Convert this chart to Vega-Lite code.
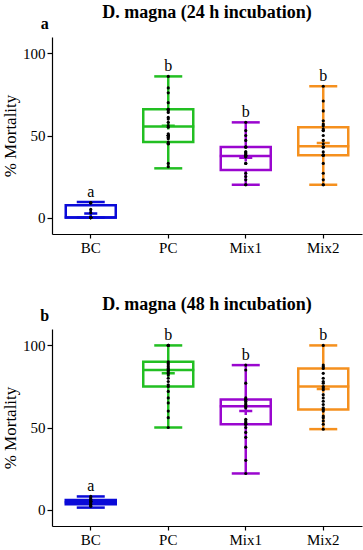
{
  "$schema": "https://vega.github.io/schema/vega-lite/v6.json",
  "padding": {"left": 1, "top": 4, "right": 3, "bottom": 3},
  "background": "white",
  "datasets": {
    "summary": [
      {"p": "24", "g": "BC", "min": 0, "q1": 0, "median": 0, "q3": 7.5, "max": 9.5, "mean": 2.5, "sig": "a"},
      {"p": "24", "g": "PC", "min": 30, "q1": 46, "median": 55.5, "q3": 66, "max": 86, "mean": 56, "sig": "b"},
      {"p": "24", "g": "Mix1", "min": 20, "q1": 29, "median": 37.5, "q3": 43, "max": 58, "mean": 36.5, "sig": "b"},
      {"p": "24", "g": "Mix2", "min": 20, "q1": 38, "median": 43.5, "q3": 55, "max": 80, "mean": 45.5, "sig": "b"},
      {"p": "48", "g": "BC", "min": 1.2, "q1": 3.2, "median": 4.5, "q3": 5.8, "max": 8, "mean": 4.5, "sig": "a"},
      {"p": "48", "g": "PC", "min": 50, "q1": 75, "median": 85, "q3": 90, "max": 100, "mean": 83, "sig": "b"},
      {"p": "48", "g": "Mix1", "min": 22, "q1": 52, "median": 63, "q3": 67, "max": 88, "mean": 60, "sig": "b"},
      {"p": "48", "g": "Mix2", "min": 49, "q1": 61, "median": 75, "q3": 86, "max": 100, "mean": 73.5, "sig": "b"}
    ],
    "points": [
      {"p": "24", "g": "BC", "v": 0}, {"p": "24", "g": "BC", "v": 0}, {"p": "24", "g": "BC", "v": 0}, {"p": "24", "g": "BC", "v": 0},
      {"p": "24", "g": "BC", "v": 0}, {"p": "24", "g": "BC", "v": 0}, {"p": "24", "g": "BC", "v": 0}, {"p": "24", "g": "BC", "v": 3},
      {"p": "24", "g": "BC", "v": 5}, {"p": "24", "g": "BC", "v": 9}, {"p": "24", "g": "BC", "v": 9}, {"p": "24", "g": "BC", "v": 9},
      {"p": "24", "g": "PC", "v": 86}, {"p": "24", "g": "PC", "v": 79}, {"p": "24", "g": "PC", "v": 76}, {"p": "24", "g": "PC", "v": 70},
      {"p": "24", "g": "PC", "v": 66}, {"p": "24", "g": "PC", "v": 66}, {"p": "24", "g": "PC", "v": 65}, {"p": "24", "g": "PC", "v": 64},
      {"p": "24", "g": "PC", "v": 61}, {"p": "24", "g": "PC", "v": 60}, {"p": "24", "g": "PC", "v": 58}, {"p": "24", "g": "PC", "v": 56},
      {"p": "24", "g": "PC", "v": 55}, {"p": "24", "g": "PC", "v": 51}, {"p": "24", "g": "PC", "v": 50}, {"p": "24", "g": "PC", "v": 50},
      {"p": "24", "g": "PC", "v": 50}, {"p": "24", "g": "PC", "v": 50}, {"p": "24", "g": "PC", "v": 49}, {"p": "24", "g": "PC", "v": 48},
      {"p": "24", "g": "PC", "v": 46}, {"p": "24", "g": "PC", "v": 45}, {"p": "24", "g": "PC", "v": 45}, {"p": "24", "g": "PC", "v": 45},
      {"p": "24", "g": "PC", "v": 33}, {"p": "24", "g": "PC", "v": 31},
      {"p": "24", "g": "Mix1", "v": 58}, {"p": "24", "g": "Mix1", "v": 53}, {"p": "24", "g": "Mix1", "v": 50}, {"p": "24", "g": "Mix1", "v": 47},
      {"p": "24", "g": "Mix1", "v": 43}, {"p": "24", "g": "Mix1", "v": 43}, {"p": "24", "g": "Mix1", "v": 43}, {"p": "24", "g": "Mix1", "v": 43},
      {"p": "24", "g": "Mix1", "v": 40}, {"p": "24", "g": "Mix1", "v": 40}, {"p": "24", "g": "Mix1", "v": 39}, {"p": "24", "g": "Mix1", "v": 38},
      {"p": "24", "g": "Mix1", "v": 38}, {"p": "24", "g": "Mix1", "v": 37}, {"p": "24", "g": "Mix1", "v": 37}, {"p": "24", "g": "Mix1", "v": 33},
      {"p": "24", "g": "Mix1", "v": 33}, {"p": "24", "g": "Mix1", "v": 27}, {"p": "24", "g": "Mix1", "v": 25}, {"p": "24", "g": "Mix1", "v": 23},
      {"p": "24", "g": "Mix1", "v": 20}, {"p": "24", "g": "Mix1", "v": 20},
      {"p": "24", "g": "Mix2", "v": 80}, {"p": "24", "g": "Mix2", "v": 71}, {"p": "24", "g": "Mix2", "v": 65}, {"p": "24", "g": "Mix2", "v": 59},
      {"p": "24", "g": "Mix2", "v": 57}, {"p": "24", "g": "Mix2", "v": 56}, {"p": "24", "g": "Mix2", "v": 54}, {"p": "24", "g": "Mix2", "v": 53},
      {"p": "24", "g": "Mix2", "v": 53}, {"p": "24", "g": "Mix2", "v": 50}, {"p": "24", "g": "Mix2", "v": 47}, {"p": "24", "g": "Mix2", "v": 45},
      {"p": "24", "g": "Mix2", "v": 43}, {"p": "24", "g": "Mix2", "v": 43}, {"p": "24", "g": "Mix2", "v": 43}, {"p": "24", "g": "Mix2", "v": 40},
      {"p": "24", "g": "Mix2", "v": 38}, {"p": "24", "g": "Mix2", "v": 38}, {"p": "24", "g": "Mix2", "v": 38}, {"p": "24", "g": "Mix2", "v": 33},
      {"p": "24", "g": "Mix2", "v": 27}, {"p": "24", "g": "Mix2", "v": 23}, {"p": "24", "g": "Mix2", "v": 20}, {"p": "24", "g": "Mix2", "v": 20},
      {"p": "48", "g": "BC", "v": 2}, {"p": "48", "g": "BC", "v": 3}, {"p": "48", "g": "BC", "v": 3}, {"p": "48", "g": "BC", "v": 4},
      {"p": "48", "g": "BC", "v": 5}, {"p": "48", "g": "BC", "v": 5}, {"p": "48", "g": "BC", "v": 5}, {"p": "48", "g": "BC", "v": 6},
      {"p": "48", "g": "BC", "v": 6}, {"p": "48", "g": "BC", "v": 7}, {"p": "48", "g": "BC", "v": 8},
      {"p": "48", "g": "PC", "v": 100}, {"p": "48", "g": "PC", "v": 100}, {"p": "48", "g": "PC", "v": 100}, {"p": "48", "g": "PC", "v": 90},
      {"p": "48", "g": "PC", "v": 89}, {"p": "48", "g": "PC", "v": 88}, {"p": "48", "g": "PC", "v": 87}, {"p": "48", "g": "PC", "v": 86},
      {"p": "48", "g": "PC", "v": 85}, {"p": "48", "g": "PC", "v": 85}, {"p": "48", "g": "PC", "v": 84}, {"p": "48", "g": "PC", "v": 83},
      {"p": "48", "g": "PC", "v": 82}, {"p": "48", "g": "PC", "v": 80}, {"p": "48", "g": "PC", "v": 78}, {"p": "48", "g": "PC", "v": 76},
      {"p": "48", "g": "PC", "v": 75}, {"p": "48", "g": "PC", "v": 72}, {"p": "48", "g": "PC", "v": 68}, {"p": "48", "g": "PC", "v": 65},
      {"p": "48", "g": "PC", "v": 60}, {"p": "48", "g": "PC", "v": 56}, {"p": "48", "g": "PC", "v": 50},
      {"p": "48", "g": "Mix1", "v": 88}, {"p": "48", "g": "Mix1", "v": 85}, {"p": "48", "g": "Mix1", "v": 77}, {"p": "48", "g": "Mix1", "v": 68},
      {"p": "48", "g": "Mix1", "v": 67}, {"p": "48", "g": "Mix1", "v": 67}, {"p": "48", "g": "Mix1", "v": 66}, {"p": "48", "g": "Mix1", "v": 65},
      {"p": "48", "g": "Mix1", "v": 64}, {"p": "48", "g": "Mix1", "v": 63}, {"p": "48", "g": "Mix1", "v": 62}, {"p": "48", "g": "Mix1", "v": 55},
      {"p": "48", "g": "Mix1", "v": 54}, {"p": "48", "g": "Mix1", "v": 53}, {"p": "48", "g": "Mix1", "v": 52}, {"p": "48", "g": "Mix1", "v": 52},
      {"p": "48", "g": "Mix1", "v": 50}, {"p": "48", "g": "Mix1", "v": 47}, {"p": "48", "g": "Mix1", "v": 44}, {"p": "48", "g": "Mix1", "v": 38},
      {"p": "48", "g": "Mix1", "v": 30}, {"p": "48", "g": "Mix1", "v": 22},
      {"p": "48", "g": "Mix2", "v": 100}, {"p": "48", "g": "Mix2", "v": 88}, {"p": "48", "g": "Mix2", "v": 87}, {"p": "48", "g": "Mix2", "v": 86},
      {"p": "48", "g": "Mix2", "v": 83}, {"p": "48", "g": "Mix2", "v": 80}, {"p": "48", "g": "Mix2", "v": 78}, {"p": "48", "g": "Mix2", "v": 77},
      {"p": "48", "g": "Mix2", "v": 75}, {"p": "48", "g": "Mix2", "v": 74}, {"p": "48", "g": "Mix2", "v": 73}, {"p": "48", "g": "Mix2", "v": 70},
      {"p": "48", "g": "Mix2", "v": 68}, {"p": "48", "g": "Mix2", "v": 66}, {"p": "48", "g": "Mix2", "v": 64}, {"p": "48", "g": "Mix2", "v": 62},
      {"p": "48", "g": "Mix2", "v": 61}, {"p": "48", "g": "Mix2", "v": 60}, {"p": "48", "g": "Mix2", "v": 57}, {"p": "48", "g": "Mix2", "v": 56},
      {"p": "48", "g": "Mix2", "v": 54}, {"p": "48", "g": "Mix2", "v": 52}, {"p": "48", "g": "Mix2", "v": 49}
    ]
  },
  "spacing": 41,
  "vconcat": [
    {
      "title": {"text": "D. magna (24 h incubation)"},
      "width": 310,
      "height": 197,
      "encoding": {
        "x": {"field": "g", "type": "nominal", "sort": ["BC", "PC", "Mix1", "Mix2"], "title": null,
              "scale": {"paddingInner": 0, "paddingOuter": 0}, "axis": {"labelAngle": 0}}
      },
      "layer": [
        {"data": {"name": "summary"}, "transform": [{"filter": "datum.p === '24'"}],
         "mark": {"type": "rule", "strokeWidth": 2.5},
         "encoding": {"y": {"field": "min", "type": "quantitative", "title": "% Mortality", "scale": {"domain": [-10, 110], "nice": false, "zero": false}, "axis": {"values": [0, 50, 100]}},
                      "y2": {"field": "max"}, "color": {"field": "g", "type": "nominal", "scale": {"domain": ["BC", "PC", "Mix1", "Mix2"], "range": ["#0a0ad8", "#22bf22", "#9a06cf", "#f5901e"]}, "legend": null}}},
        {"data": {"name": "summary"}, "transform": [{"filter": "datum.p === '24'"}],
         "mark": {"type": "bar", "size": 50, "fill": "white", "strokeWidth": 2.5},
         "encoding": {"y": {"field": "q1", "type": "quantitative", "title": "% Mortality"}, "y2": {"field": "q3"},
                      "stroke": {"field": "g", "type": "nominal", "scale": {"domain": ["BC", "PC", "Mix1", "Mix2"], "range": ["#0a0ad8", "#22bf22", "#9a06cf", "#f5901e"]}, "legend": null}}},
        {"data": {"name": "summary"}, "transform": [{"filter": "datum.p === '24'"}],
         "mark": {"type": "tick", "size": 52, "thickness": 2.5, "opacity": 1},
         "encoding": {"y": {"field": "median", "type": "quantitative", "title": "% Mortality"}, "color": {"field": "g", "type": "nominal", "legend": null}}},
        {"data": {"name": "summary"}, "transform": [{"filter": "datum.p === '24'"}],
         "mark": {"type": "tick", "size": 28, "thickness": 2.5, "opacity": 1},
         "encoding": {"y": {"field": "min", "type": "quantitative", "title": "% Mortality"}, "color": {"field": "g", "type": "nominal", "legend": null}}},
        {"data": {"name": "summary"}, "transform": [{"filter": "datum.p === '24'"}],
         "mark": {"type": "tick", "size": 28, "thickness": 2.5, "opacity": 1},
         "encoding": {"y": {"field": "max", "type": "quantitative", "title": "% Mortality"}, "color": {"field": "g", "type": "nominal", "legend": null}}},
        {"data": {"name": "summary"}, "transform": [{"filter": "datum.p === '24'"}],
         "mark": {"type": "point", "shape": "M-1,0L1,0M0,-0.6L0,0.6", "filled": false, "size": 170, "strokeWidth": 2.5, "opacity": 1},
         "encoding": {"y": {"field": "mean", "type": "quantitative", "title": "% Mortality"}, "color": {"field": "g", "type": "nominal", "legend": null}}},
        {"data": {"name": "points"}, "transform": [{"filter": "datum.p === '24'"}],
         "mark": {"type": "circle", "size": 10, "color": "black", "opacity": 1},
         "encoding": {"y": {"field": "v", "type": "quantitative", "title": "% Mortality"}}},
        {"data": {"name": "summary"}, "transform": [{"filter": "datum.p === '24'"}],
         "mark": {"type": "text", "fontSize": 16, "dy": -5, "baseline": "alphabetic", "color": "black"},
         "encoding": {"y": {"field": "max", "type": "quantitative", "title": "% Mortality"}, "text": {"field": "sig"}}},
        {"data": {"values": [{"t": "a"}]},
         "mark": {"type": "text", "fontSize": 16, "fontWeight": "bold", "dx": -46, "dy": -13, "color": "black"},
         "encoding": {"x": {"datum": "BC"}, "y": {"datum": 110}, "text": {"field": "t"}}}
      ]
    },
    {
      "title": {"text": "D. magna (48 h incubation)"},
      "width": 310,
      "height": 197,
      "encoding": {
        "x": {"field": "g", "type": "nominal", "sort": ["BC", "PC", "Mix1", "Mix2"], "title": null,
              "scale": {"paddingInner": 0, "paddingOuter": 0}, "axis": {"labelAngle": 0}}
      },
      "layer": [
        {"data": {"name": "summary"}, "transform": [{"filter": "datum.p === '48'"}],
         "mark": {"type": "rule", "strokeWidth": 2.5},
         "encoding": {"y": {"field": "min", "type": "quantitative", "title": "% Mortality", "scale": {"domain": [-10, 110], "nice": false, "zero": false}, "axis": {"values": [0, 50, 100]}},
                      "y2": {"field": "max"}, "color": {"field": "g", "type": "nominal", "scale": {"domain": ["BC", "PC", "Mix1", "Mix2"], "range": ["#0a0ad8", "#22bf22", "#9a06cf", "#f5901e"]}, "legend": null}}},
        {"data": {"name": "summary"}, "transform": [{"filter": "datum.p === '48'"}],
         "mark": {"type": "bar", "size": 50, "fill": "white", "strokeWidth": 2.5},
         "encoding": {"y": {"field": "q1", "type": "quantitative", "title": "% Mortality"}, "y2": {"field": "q3"},
                      "stroke": {"field": "g", "type": "nominal", "scale": {"domain": ["BC", "PC", "Mix1", "Mix2"], "range": ["#0a0ad8", "#22bf22", "#9a06cf", "#f5901e"]}, "legend": null}}},
        {"data": {"name": "summary"}, "transform": [{"filter": "datum.p === '48'"}],
         "mark": {"type": "tick", "size": 52, "thickness": 2.5, "opacity": 1},
         "encoding": {"y": {"field": "median", "type": "quantitative", "title": "% Mortality"}, "color": {"field": "g", "type": "nominal", "legend": null}}},
        {"data": {"name": "summary"}, "transform": [{"filter": "datum.p === '48'"}],
         "mark": {"type": "tick", "size": 28, "thickness": 2.5, "opacity": 1},
         "encoding": {"y": {"field": "min", "type": "quantitative", "title": "% Mortality"}, "color": {"field": "g", "type": "nominal", "legend": null}}},
        {"data": {"name": "summary"}, "transform": [{"filter": "datum.p === '48'"}],
         "mark": {"type": "tick", "size": 28, "thickness": 2.5, "opacity": 1},
         "encoding": {"y": {"field": "max", "type": "quantitative", "title": "% Mortality"}, "color": {"field": "g", "type": "nominal", "legend": null}}},
        {"data": {"name": "summary"}, "transform": [{"filter": "datum.p === '48'"}],
         "mark": {"type": "point", "shape": "M-1,0L1,0M0,-0.6L0,0.6", "filled": false, "size": 170, "strokeWidth": 2.5, "opacity": 1},
         "encoding": {"y": {"field": "mean", "type": "quantitative", "title": "% Mortality"}, "color": {"field": "g", "type": "nominal", "legend": null}}},
        {"data": {"name": "points"}, "transform": [{"filter": "datum.p === '48'"}],
         "mark": {"type": "circle", "size": 10, "color": "black", "opacity": 1},
         "encoding": {"y": {"field": "v", "type": "quantitative", "title": "% Mortality"}}},
        {"data": {"name": "summary"}, "transform": [{"filter": "datum.p === '48'"}],
         "mark": {"type": "text", "fontSize": 16, "dy": -5, "baseline": "alphabetic", "color": "black"},
         "encoding": {"y": {"field": "max", "type": "quantitative", "title": "% Mortality"}, "text": {"field": "sig"}}},
        {"data": {"values": [{"t": "b"}]},
         "mark": {"type": "text", "fontSize": 16, "fontWeight": "bold", "dx": -46, "dy": -13, "color": "black"},
         "encoding": {"x": {"datum": "BC"}, "y": {"datum": 110}, "text": {"field": "t"}}}
      ]
    }
  ],
  "config": {
    "font": "Liberation Serif",
    "view": {"stroke": null},
    "title": {"fontSize": 18, "fontWeight": "bold", "font": "Liberation Serif", "color": "black", "anchor": "middle", "offset": -6},
    "axis": {"domainColor": "black", "tickColor": "black", "labelColor": "black", "labelFontSize": 15, "labelFont": "Liberation Serif",
             "domainWidth": 1.2, "tickWidth": 1.2, "tickSize": 5, "grid": false, "labelPadding": 2,
             "titleFont": "Liberation Serif", "titleFontSize": 17, "titleFontWeight": "normal", "titleColor": "black"},
    "axisY": {"titlePadding": 3},
    "axisX": {"tickSize": 4}
  }
}
